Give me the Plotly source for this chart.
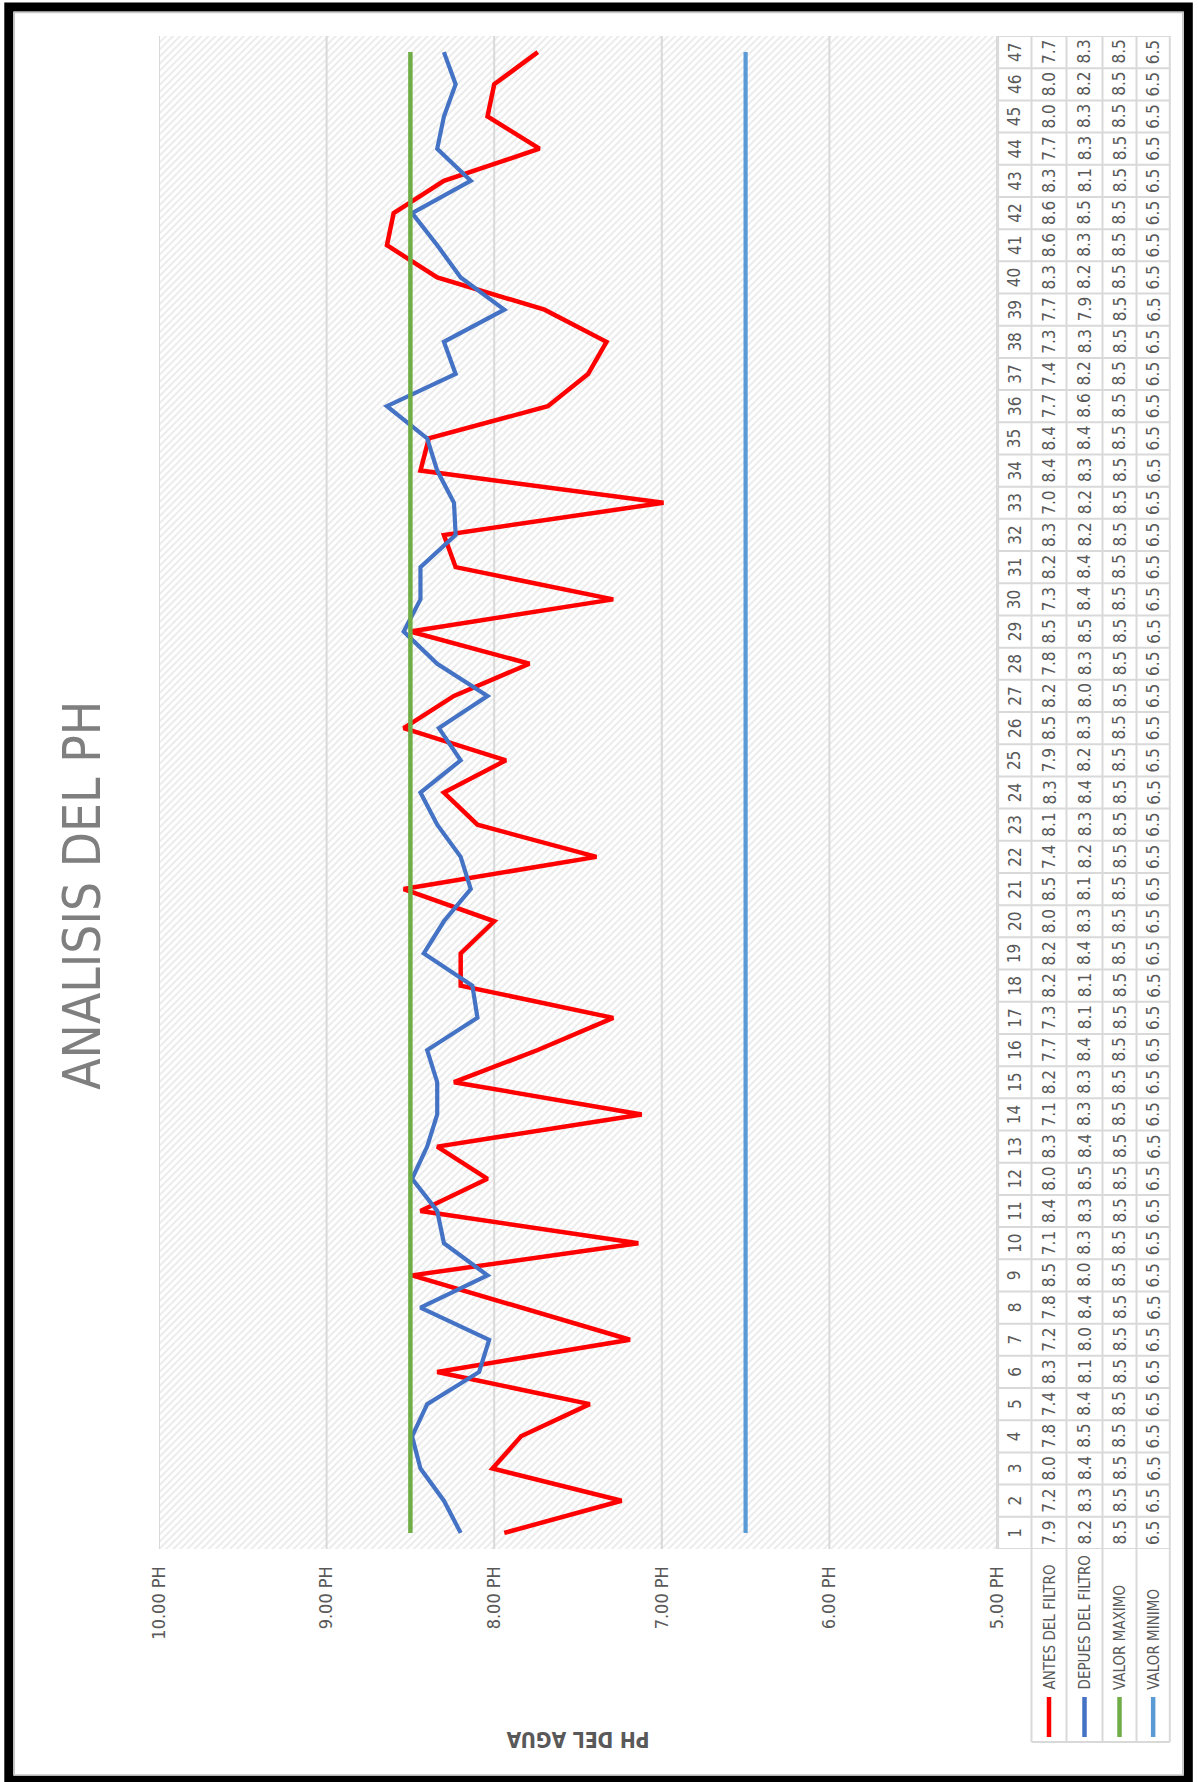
import plotly.graph_objects as go

# ---------------- data ----------------
categories = list(range(1, 48))
antes_filtro = [7.94, 7.24, 8.01, 7.84, 7.43, 8.34, 7.19, 7.84, 8.49, 7.14,
                8.44, 8.04, 8.34, 7.12, 8.24, 7.74, 7.29, 8.20, 8.20, 8.00,
                8.54, 7.39, 8.10, 8.30, 7.93, 8.54, 8.24, 7.79, 8.50, 7.29,
                8.23, 8.30, 6.99, 8.44, 8.39, 7.68, 7.44, 7.33, 7.70, 8.34,
                8.64, 8.60, 8.30, 7.73, 8.04, 8.00, 7.74]
despues_filtro = [8.20, 8.30, 8.44, 8.49, 8.40, 8.09, 8.03, 8.44, 8.04, 8.30,
                  8.34, 8.49, 8.40, 8.34, 8.34, 8.40, 8.10, 8.13, 8.42, 8.30,
                  8.14, 8.20, 8.34, 8.44, 8.20, 8.33, 8.04, 8.34, 8.54, 8.44,
                  8.44, 8.23, 8.24, 8.34, 8.40, 8.64, 8.23, 8.30, 7.94, 8.20,
                  8.34, 8.49, 8.14, 8.34, 8.30, 8.23, 8.30]
valor_maximo = [8.5] * 47
valor_minimo = [6.5] * 47

series_names = ["ANTES DEL FILTRO", "DEPUES DEL FILTRO", "VALOR MAXIMO", "VALOR MINIMO"]
series_values = [antes_filtro, despues_filtro, valor_maximo, valor_minimo]
series_colors = ["#FF0000", "#4472C4", "#70AD47", "#5B9BD5"]

tick_vals = [10, 9, 8, 7, 6, 5]
tick_text = ["10.00 PH", "9.00 PH", "8.00 PH", "7.00 PH", "6.00 PH", "5.00 PH"]

# ---------------- layout geometry (pixels) ----------------
W, H = 1199, 1782
PL, PR, PT, PB = 159.2, 997.2, 36, 1549

def px2x(px):
    return (px - PL) / (PR - PL)

def py2y(py):
    return (PB - py) / (PB - PT)

FONT = "Liberation Sans Narrow, Arial Narrow, DejaVu Sans Condensed, sans-serif"
TXT = "#595959"
GRID = "#d9d9d9"

fig = go.Figure()

# hatched plot background
fig.add_trace(go.Scatter(
    x=[tick_vals[0], tick_vals[-1], tick_vals[-1], tick_vals[0], tick_vals[0]],
    y=[0.5, 0.5, 47.5, 47.5, 0.5],
    mode="lines", line=dict(width=0), fill="toself",
    fillcolor="white",
    fillpattern=dict(shape="/", fgcolor="#d4d4d4", bgcolor="white", size=5, solidity=0.35),
    hoverinfo="skip", showlegend=False))

# gridlines
for v in tick_vals:
    fig.add_trace(go.Scatter(x=[v, v], y=[0.5, 47.5], mode="lines",
                             line=dict(color=GRID, width=2),
                             hoverinfo="skip", showlegend=False))

# data lines
widths = [4.5, 4.2, 4.5, 4.2]
for name, vals, col, w in zip(series_names, series_values, series_colors, widths):
    fig.add_trace(go.Scatter(x=vals, y=categories, mode="lines", name=name,
                             line=dict(color=col, width=w), showlegend=False))

shapes = []
annotations = []

# outer frame
shapes.append(dict(type="rect", xref="paper", yref="paper",
                   x0=px2x(9), x1=px2x(1188.5), y0=py2y(1780), y1=py2y(7),
                   line=dict(color="black", width=9), layer="above"))
shapes.append(dict(type="rect", xref="paper", yref="paper",
                   x0=px2x(14.5), x1=px2x(1183), y0=py2y(1775), y1=py2y(12.5),
                   line=dict(color="#c8c8c8", width=1.5), layer="above"))

# data table
col_edges = [998.3, 1031.7, 1066.7, 1102.7, 1136.7, 1170.0]
for ex in col_edges:
    shapes.append(dict(type="line", xref="paper", yref="paper",
                       x0=px2x(ex), x1=px2x(ex), y0=py2y(PB), y1=py2y(PT),
                       line=dict(color=GRID, width=2)))
for ex in col_edges[1:]:
    shapes.append(dict(type="line", xref="paper", yref="paper",
                       x0=px2x(ex), x1=px2x(ex), y0=py2y(1742), y1=py2y(PB),
                       line=dict(color=GRID, width=2)))
shapes.append(dict(type="line", xref="paper", yref="paper",
                   x0=px2x(col_edges[1]), x1=px2x(col_edges[-1]),
                   y0=py2y(1742), y1=py2y(1742),
                   line=dict(color=GRID, width=2)))
for k in range(len(categories) + 1):
    shapes.append(dict(type="line", xref="paper", yref="y",
                       x0=px2x(col_edges[0]), x1=px2x(col_edges[-1]),
                       y0=k + 0.5, y1=k + 0.5,
                       line=dict(color=GRID, width=2)))

col_centers = [(col_edges[i] + col_edges[i + 1]) / 2 for i in range(5)]
for i, c in enumerate(categories):
    annotations.append(dict(x=px2x(col_centers[0]), y=c, xref="paper", yref="y",
                            xanchor="center", yanchor="middle",
                            text=str(c), textangle=-90, showarrow=False,
                            font=dict(family=FONT, size=17, color=TXT)))
    for j, vals in enumerate(series_values):
        annotations.append(dict(x=px2x(col_centers[j + 1]), y=c, xref="paper", yref="y",
                                xanchor="center", yanchor="middle",
                                text=f"{vals[i]:.1f}", textangle=-90, showarrow=False,
                                font=dict(family=FONT, size=17, color=TXT)))

# legend keys in table
for j, (name, col) in enumerate(zip(series_names, series_colors)):
    cx = col_centers[j + 1]
    shapes.append(dict(type="line", xref="paper", yref="paper",
                       x0=px2x(cx), x1=px2x(cx), y0=py2y(1737), y1=py2y(1697),
                       line=dict(color=col, width=4.5)))
    annotations.append(dict(x=px2x(cx), y=py2y(1692), xref="paper", yref="paper",
                            xanchor="center", yanchor="bottom",
                            text=name, textangle=-90, showarrow=False,
                            font=dict(family=FONT, size=15, color=TXT)))

# title
annotations.append(dict(x=px2x(82), y=py2y(895), xref="paper", yref="paper",
                        xanchor="center", yanchor="middle",
                        text="ANALISIS DEL PH", textangle=-90, showarrow=False,
                        font=dict(family=FONT, size=51, color="#7f7f7f")))
# axis title
annotations.append(dict(x=px2x(578), y=py2y(1739), xref="paper", yref="paper",
                        xanchor="center", yanchor="middle",
                        text="<b>PH DEL AGUA</b>", textangle=180, showarrow=False,
                        font=dict(family=FONT, size=21, color=TXT)))

fig.update_layout(
    width=W, height=H, autosize=False,
    margin=dict(l=PL, r=W - PR, t=PT, b=H - PB, pad=0),
    paper_bgcolor="white", plot_bgcolor="white",
    showlegend=False,
    shapes=shapes, annotations=annotations,
    xaxis=dict(range=[10, 5], tickvals=tick_vals, ticktext=tick_text,
               tickangle=-90, showgrid=False, zeroline=False, showline=False,
               ticks="outside", ticklen=9, tickcolor="rgba(0,0,0,0)",
               tickfont=dict(family=FONT, size=18, color=TXT), fixedrange=True),
    yaxis=dict(range=[0.5, 47.5], showticklabels=False, showgrid=False,
               zeroline=False, showline=False, fixedrange=True),
)

fig.write_html("out.html", config={"displayModeBar": False},
               post_script="document.body.style.margin='0';document.body.style.overflow='hidden';")
